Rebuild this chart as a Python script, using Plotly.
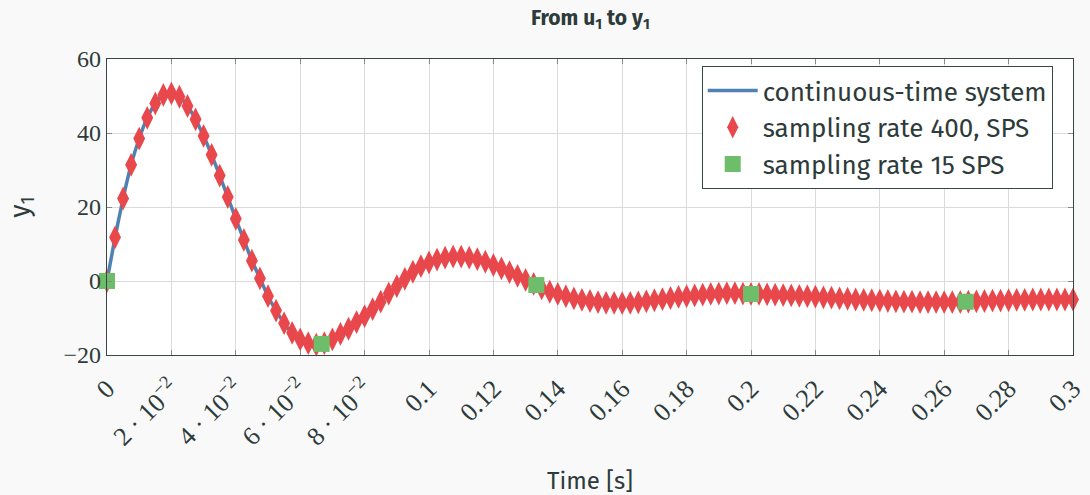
import plotly.graph_objects as go

# ---------------- data ----------------
t_400 = [round(0.0025 * k, 4) for k in range(121)]
y_400 = [
    0.0, 11.8, 22.3, 31.4, 38.5, 44.1, 48.0, 50.3, 50.7, 49.8,
    47.3, 43.7, 39.2, 34.1, 28.5, 22.7, 16.8, 11.1, 5.5, 0.7,
    -4.1, -8.0, -11.4, -14.0, -15.8, -16.8, -17.2, -16.8, -15.8, -14.3,
    -12.9, -11.1, -9.5, -7.6, -5.6, -3.4, -1.4, 0.6, 2.5, 4.0,
    5.0, 5.8, 6.3, 6.6, 6.6, 6.3, 5.9, 5.2, 4.3, 3.4,
    2.4, 1.4, 0.3, -0.8, -2.0, -2.9, -3.5, -4.1, -4.7, -5.1,
    -5.4, -5.7, -5.9, -5.9, -6.0, -5.9, -5.8, -5.5, -5.2, -4.9,
    -4.6, -4.3, -4.1, -3.9, -3.7, -3.5, -3.4, -3.3, -3.3, -3.4,
    -3.5, -3.5, -3.6, -3.7, -3.8, -3.9, -4.0, -4.1, -4.2, -4.4,
    -4.5, -4.7, -4.8, -5.0, -5.1, -5.2, -5.3, -5.4, -5.5, -5.6,
    -5.6, -5.7, -5.7, -5.7, -5.7, -5.7, -5.7, -5.6, -5.5, -5.4,
    -5.3, -5.3, -5.2, -5.1, -5.1, -5.0, -5.0, -5.0, -5.0, -5.0,
    -5.0,
]
t_15 = [0.0, 1 / 15, 2 / 15, 3 / 15, 4 / 15]
y_15 = [0.0, -17.0, -1.1, -3.5, -5.6]

x_tickvals = [0, 0.02, 0.04, 0.06, 0.08, 0.1, 0.12, 0.14, 0.16, 0.18,
              0.2, 0.22, 0.24, 0.26, 0.28, 0.3]
x_ticktext = ["0", "2 · 10<sup>−2</sup>", "4 · 10<sup>−2</sup>",
              "6 · 10<sup>−2</sup>", "8 · 10<sup>−2</sup>", "0.1", "0.12",
              "0.14", "0.16", "0.18", "0.2", "0.22", "0.24", "0.26",
              "0.28", "0.3"]
y_tickvals = [-20, 0, 20, 40, 60]
y_ticktext = ["−20", "0", "20", "40", "60"]

names = ["continuous-time system", "sampling rate 400, SPS",
         "sampling rate 15 SPS"]

# ---------------- styles ----------------
BLUE = "#4f82b2"
RED = "#e8474b"
GREEN = "#6dbd6a"
TXT = "#2d3b3b"
SERIF = "Liberation Serif, DejaVu Serif, serif"
SANS = "Fira Sans, Noto Sans, Open Sans, sans-serif"

fig = go.Figure()
fig.add_trace(go.Scatter(
    x=t_400, y=y_400, mode="lines", name=names[0],
    line=dict(color=BLUE, width=3.5, shape="spline", smoothing=0.6),
    cliponaxis=False,
))
fig.add_trace(go.Scatter(
    x=t_400, y=y_400, mode="markers", name=names[1],
    marker=dict(symbol="diamond-tall", size=17, color=RED,
                line=dict(width=0)),
    cliponaxis=False,
))
fig.add_trace(go.Scatter(
    x=t_15, y=y_15, mode="markers", name=names[2],
    marker=dict(symbol="square", size=16, color=GREEN,
                line=dict(width=0)),
    cliponaxis=False,
))

axis_common = dict(
    showline=True, linecolor="#3a4646", linewidth=1.2, mirror="allticks",
    ticks="inside", ticklen=5, tickcolor="#888888",
    showgrid=True, gridcolor="#dadada", gridwidth=1.2, zeroline=False,
    automargin=False,
)

fig.update_xaxes(
    range=[0, 0.3], tickmode="array", tickvals=x_tickvals,
    ticktext=x_ticktext, tickangle=-45,
    ticklabelstandoff=7,
    tickfont=dict(family=SERIF, size=26, color=TXT),
    title=dict(text="Time [s]", font=dict(family=SANS, size=24, color=TXT),
               standoff=33),
    **axis_common,
)
fig.update_yaxes(
    range=[-20, 60], tickmode="array", tickvals=y_tickvals,
    ticktext=y_ticktext,
    tickfont=dict(family=SERIF, size=24, color=TXT),
    title=dict(text="y<sub>1</sub>", font=dict(family=SANS, size=27, color=TXT),
               standoff=26),
    **axis_common,
)

fig.update_layout(
    width=1090, height=495,
    margin=dict(l=107, r=17, t=59, b=140),
    paper_bgcolor="#f9f9f9", plot_bgcolor="#ffffff",
    title=dict(text="<b>From u<sub>1</sub> to y<sub>1</sub></b>",
               x=0.5416, xanchor="center", y=0.965, yanchor="middle",
               font=dict(family=SANS, size=21, color=TXT)),
    legend=dict(
        x=0.979, xanchor="right", y=0.976, yanchor="top",
        bgcolor="#ffffff", bordercolor="#3a4646", borderwidth=1,
        font=dict(family=SANS, size=26, color=TXT),
        itemwidth=50, tracegroupgap=0,
    ),
    showlegend=True,
)

fig.write_html(
    "out.html",
    config={"displayModeBar": False},
    post_script="document.body.style.margin='0px';"
                "document.body.style.background='#f9f9f9';",
)
